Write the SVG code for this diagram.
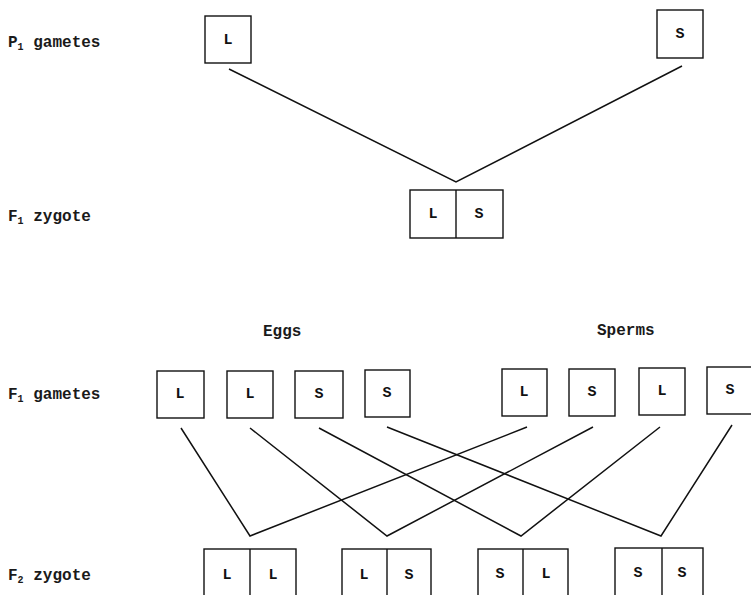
<svg xmlns="http://www.w3.org/2000/svg" width="751" height="595" viewBox="0 0 751 595">
<style>
.lbl{font-family:"Liberation Mono","DejaVu Sans Mono",monospace;font-size:16px;font-weight:bold;fill:#1a1a1a}
.sub{font-size:10px}
.box{fill:#fff;stroke:#111;stroke-width:1.4}
.ch{font-family:"Liberation Mono","DejaVu Sans Mono",monospace;font-size:15px;font-weight:bold;fill:#111;text-anchor:middle;dominant-baseline:central}
.ln{fill:none;stroke:#111;stroke-width:1.5;stroke-linejoin:miter}
</style>
<rect width="751" height="595" fill="#fff"/>
<g id="labels">
<text class="lbl" x="8" y="47">P<tspan class="sub" dy="3">1</tspan><tspan dy="-3"> gametes</tspan></text>
<text class="lbl" x="8" y="221">F<tspan class="sub" dy="3">1</tspan><tspan dy="-3"> zygote</tspan></text>
<text class="lbl" x="263" y="336">Eggs</text>
<text class="lbl" x="597" y="335">Sperms</text>
<text class="lbl" x="8" y="399">F<tspan class="sub" dy="3">1</tspan><tspan dy="-3"> gametes</tspan></text>
<text class="lbl" x="8" y="580">F<tspan class="sub" dy="3">2</tspan><tspan dy="-3"> zygote</tspan></text>
</g>
<g id="connectors">
<polyline class="ln" points="229,69 456,182 682,66"/>
<polyline class="ln" points="181,428 250,536 527,427"/>
<polyline class="ln" points="250,428 387,536 593,427"/>
<polyline class="ln" points="319,428 521,536 660,427"/>
<polyline class="ln" points="387,427 661,536 732,425"/>
</g>
<g id="p1-L"><rect class="box" x="205" y="16" width="46" height="47"/><text class="ch" x="228" y="40">L</text></g>
<g id="p1-S"><rect class="box" x="657" y="10" width="46" height="48"/><text class="ch" x="680" y="34">S</text></g>
<g id="f1-zygote"><rect class="box" x="410" y="190" width="93" height="48"/><line class="box" x1="456" y1="190" x2="456" y2="238"/><text class="ch" x="433" y="214">L</text><text class="ch" x="479" y="214">S</text></g>
<g id="egg1"><rect class="box" x="157" y="371" width="47" height="47"/><text class="ch" x="180" y="394">L</text></g>
<g id="egg2"><rect class="box" x="227" y="371" width="46" height="47"/><text class="ch" x="250" y="394">L</text></g>
<g id="egg3"><rect class="box" x="295" y="371" width="48" height="47"/><text class="ch" x="319" y="394">S</text></g>
<g id="egg4"><rect class="box" x="365" y="370" width="45" height="47"/><text class="ch" x="387" y="393">S</text></g>
<g id="sperm1"><rect class="box" x="502" y="369" width="45" height="47"/><text class="ch" x="524" y="392">L</text></g>
<g id="sperm2"><rect class="box" x="569" y="369" width="46" height="47"/><text class="ch" x="592" y="392">S</text></g>
<g id="sperm3"><rect class="box" x="639" y="368" width="46" height="47"/><text class="ch" x="662" y="391">L</text></g>
<g id="sperm4"><rect class="box" x="707" y="367" width="46" height="47"/><text class="ch" x="730" y="390">S</text></g>
<g id="f2-LL"><rect class="box" x="204" y="549" width="92" height="50"/><line class="box" x1="250" y1="549" x2="250" y2="599"/><text class="ch" x="227" y="575">L</text><text class="ch" x="273" y="575">L</text></g>
<g id="f2-LS"><rect class="box" x="342" y="549" width="89" height="50"/><line class="box" x1="387" y1="549" x2="387" y2="599"/><text class="ch" x="364" y="575">L</text><text class="ch" x="409" y="575">S</text></g>
<g id="f2-SL"><rect class="box" x="478" y="549" width="90" height="50"/><line class="box" x1="523" y1="549" x2="523" y2="599"/><text class="ch" x="500" y="574">S</text><text class="ch" x="546" y="574">L</text></g>
<g id="f2-SS"><rect class="box" x="615" y="548" width="88" height="51"/><line class="box" x1="662" y1="548" x2="662" y2="599"/><text class="ch" x="638" y="573">S</text><text class="ch" x="682" y="573">S</text></g>
</svg>
